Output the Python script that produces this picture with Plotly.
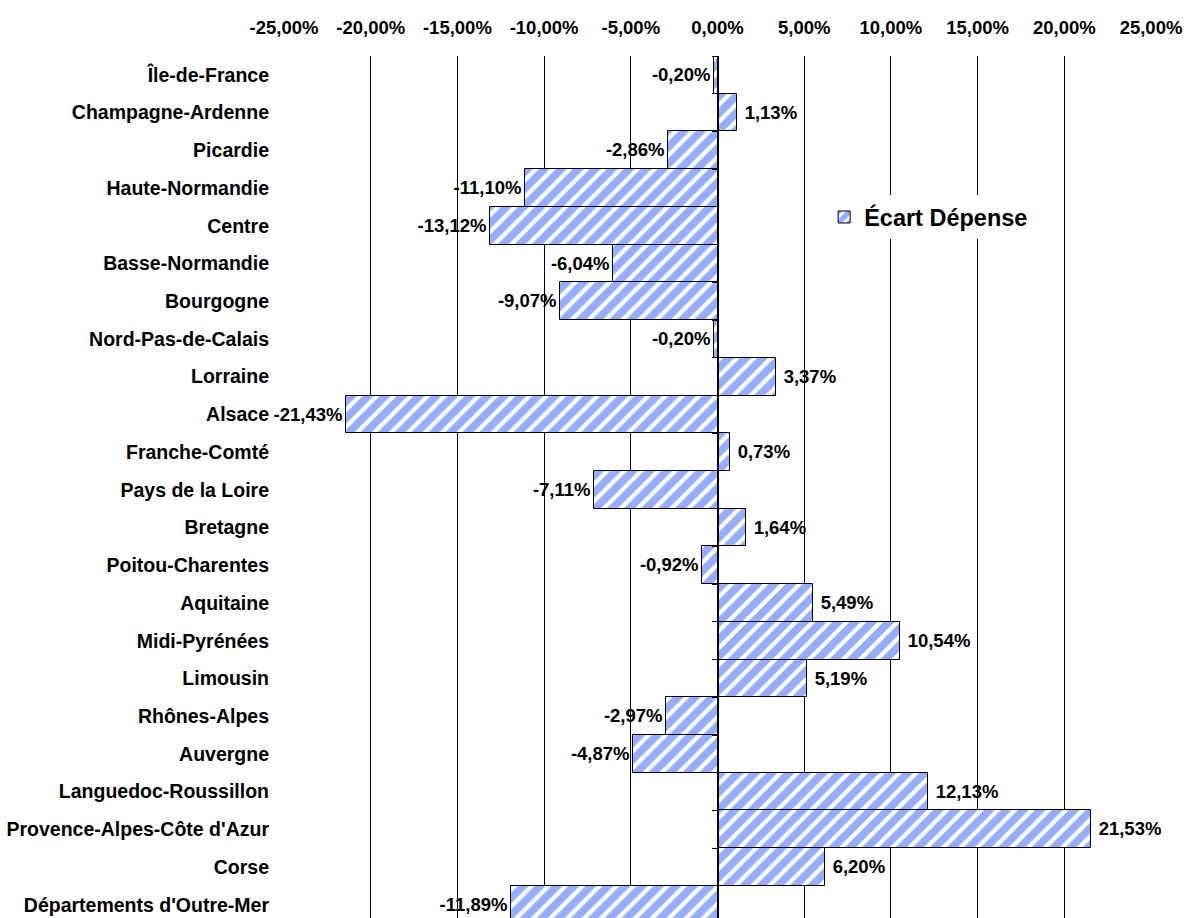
import plotly.graph_objects as go

regions = [
    "Île-de-France", "Champagne-Ardenne", "Picardie", "Haute-Normandie", "Centre",
    "Basse-Normandie", "Bourgogne", "Nord-Pas-de-Calais", "Lorraine", "Alsace",
    "Franche-Comté", "Pays de la Loire", "Bretagne", "Poitou-Charentes", "Aquitaine",
    "Midi-Pyrénées", "Limousin", "Rhônes-Alpes", "Auvergne", "Languedoc-Roussillon",
    "Provence-Alpes-Côte d'Azur", "Corse", "Départements d'Outre-Mer",
]
ecart_depense = [
    -0.20, 1.13, -2.86, -11.10, -13.12,
    -6.04, -9.07, -0.20, 3.37, -21.43,
    0.73, -7.11, 1.64, -0.92, 5.49,
    10.54, 5.19, -2.97, -4.87, 12.13,
    21.53, 6.20, -11.89,
]
tick_values = [-25, -20, -15, -10, -5, 0, 5, 10, 15, 20, 25]
tick_labels = ["-25,00%", "-20,00%", "-15,00%", "-10,00%", "-5,00%", "0,00%",
               "5,00%", "10,00%", "15,00%", "20,00%", "25,00%"]

labels = [(" " if v > 0 else "") + f"{v:.2f}%".replace(".", ",") for v in ecart_depense]

FONT = "Liberation Sans, Arial, sans-serif"

fig = go.Figure()
fig.add_trace(go.Bar(
    x=ecart_depense, y=regions, orientation="h",
    name="Écart Dépense",
    marker=dict(
        color="white",
        line=dict(color="black", width=1),
        pattern=dict(shape="/", fgcolor="#2a5cff", bgcolor="white", size=12, solidity=0.65),
    ),
    text=labels, textposition="outside", cliponaxis=False, constraintext="none",
    textfont=dict(family=FONT, size=18.5, color="black", weight="bold"),
))
# helper trace to draw the category axis line at zero
fig.add_trace(go.Scatter(
    x=[None] * len(regions), y=regions, yaxis="y2", mode="markers",
    showlegend=False, hoverinfo="skip",
))

n = len(regions)
fig.update_layout(
    width=1187, height=918,
    margin=dict(l=284, r=36, t=56, b=0),
    paper_bgcolor="white", plot_bgcolor="white",
    bargap=0,
    font=dict(family=FONT, size=18.5, color="black", weight="bold"),
    xaxis=dict(
        side="top", range=[-25, 25], tickvals=tick_values, ticktext=tick_labels,
        showgrid=True, gridcolor="black", gridwidth=1, zeroline=False,
        showline=False, ticks="", ticklabelstandoff=17,
        tickfont=dict(family=FONT, size=18.5, color="black", weight="bold"),
    ),
    yaxis=dict(
        type="category", categoryorder="array", categoryarray=regions,
        range=[n - 0.65, -0.5], showgrid=False, zeroline=False, showline=False,
        ticks="", ticklabelstandoff=14,
        tickfont=dict(family=FONT, size=19.5, color="black", weight="bold"),
    ),
    yaxis2=dict(
        type="category", categoryorder="array", categoryarray=regions,
        overlaying="y", anchor="free", position=0.5, matches="y",
        showline=True, linecolor="black", linewidth=1,
        ticks="outside", tickson="boundaries", ticklen=6, tickcolor="black",
        showticklabels=False, showgrid=False, zeroline=False,
    ),
    legend=dict(
        x=0.623, y=0.813, xanchor="left", yanchor="middle",
        bgcolor="white", borderwidth=0,
        font=dict(family=FONT, size=23.5, color="black", weight="bold"),
    ),
    showlegend=True,
)

fig.write_html("out.html")
